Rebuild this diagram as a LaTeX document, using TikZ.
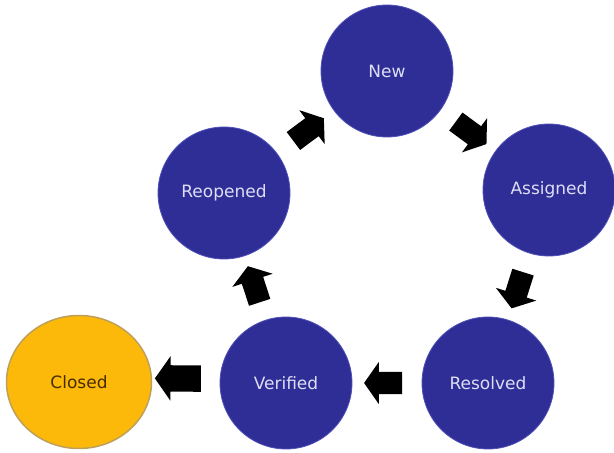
\documentclass[tikz,border=0pt]{standalone}
\usepackage{fontspec}
\setmainfont{DejaVu Sans}
\usetikzlibrary{shapes.geometric,shapes.arrows,calc}
\definecolor{stateblue}{RGB}{46,46,150}
\definecolor{stateedge}{RGB}{80,80,185}
\definecolor{statetext}{RGB}{222,222,246}
\definecolor{closedfill}{RGB}{252,185,10}
\definecolor{closededge}{RGB}{190,160,90}
\definecolor{closedtext}{RGB}{70,45,0}
\tikzset{
  state/.style={circle, fill=stateblue, draw=stateedge, line width=0.8pt,
    minimum size=132pt, inner sep=0pt, text=statetext, font=\fontsize{17}{20}\selectfont},
  finalstate/.style={ellipse, fill=closedfill, draw=closededge, line width=1.5pt,
    minimum width=145pt, minimum height=133pt, inner sep=0pt, text=closedtext,
    font=\fontsize{17}{20}\selectfont},
  blockarrow/.style={single arrow, fill=black, draw=none, inner sep=11pt,
    minimum height=38pt, single arrow head extend=10pt,
    single arrow tip angle=110, sloped, allow upside down, midway},
  bigblockarrow/.style={blockarrow, inner sep=13pt, minimum height=46pt,
    single arrow head extend=9pt}
}
\begin{document}
\begin{tikzpicture}[x=1pt,y=1pt]
  \useasboundingbox (0,0) rectangle (614,453);
  \node[state] (new) at (387,382) {New};
  \node[state] (assigned) at (549,263) {Assigned};
  \node[state] (resolved) at (488,70) {Resolved};
  \node[state] (verified) at (286,70) {Verified};
  \node[state] (reopened) at (224,260) {Reopened};
  \node[finalstate] (closed) at (79,71) {Closed};

  \path (new.center) -- (assigned.center) node[blockarrow] (a1) {};
  \path (assigned.center) -- (resolved.center) node[blockarrow] (a2) {};
  \path (resolved.center) -- (verified.center) node[blockarrow] (a3) {};
  \path (verified.center) -- (closed.center) node[bigblockarrow, yshift=-4pt] (a4) {};
  \path (verified.center) -- (reopened.center) node[blockarrow] (a5) {};
  \path (reopened.center) -- (new.center) node[blockarrow] (a6) {};
\end{tikzpicture}
\end{document}
